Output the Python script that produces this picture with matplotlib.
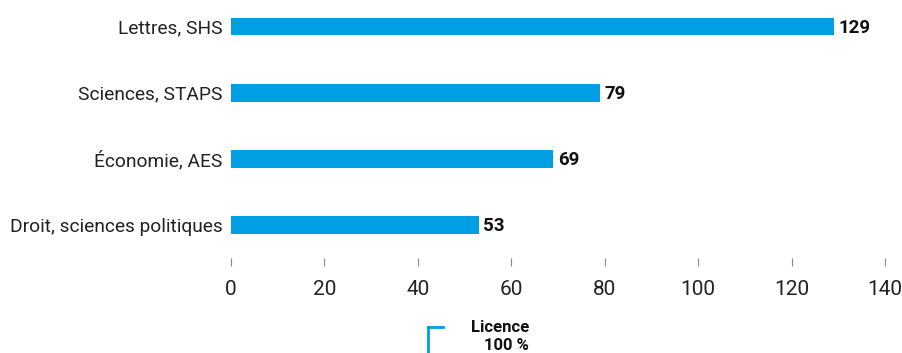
import matplotlib.pyplot as plt
from matplotlib.lines import Line2D

categories = ["Droit, sciences politiques", "Économie, AES", "Sciences, STAPS", "Lettres, SHS"]
values = [53, 69, 79, 129]
ticks = [0, 20, 40, 60, 80, 100, 120, 140]

plt.rcParams['font.family'] = ['Roboto', 'DejaVu Sans']

fig = plt.figure(figsize=(9.02, 3.53), dpi=100)
ax = fig.add_axes([231 / 902, 1 - 258 / 353, (885 - 231) / 902, 258 / 353])

color = "#009fe3"
ypos = list(range(len(categories)))
ax.barh(ypos, values, height=0.27, color=color)

for y, v in zip(ypos, values):
    ax.text(v + 1, y - 0.02, str(v), va="center", ha="left", fontsize=13.5,
            fontweight="bold", color="#111111")

ax.set_yticks(ypos)
ax.set_yticklabels(categories, fontsize=13.8, color="#222222")
ax.tick_params(axis="y", length=0, pad=6)

ax.set_xlim(0, 140)
ax.set_ylim(-0.5, 3.4)
ax.set_xticks(ticks)
ax.set_xticklabels([str(t) for t in ticks], fontsize=15, color="#222222")
ax.tick_params(axis="x", length=6, width=0.8, color="#888888", pad=10)

for s in ax.spines.values():
    s.set_visible(False)

# legend
fig.add_artist(Line2D([428 / 902, 443 / 902], [1 - 327 / 353, 1 - 327 / 353],
                      color=color, lw=2, transform=fig.transFigure))
fig.add_artist(Line2D([428 / 902, 428 / 902], [1 - 327 / 353, 0],
                      color=color, lw=2, transform=fig.transFigure))
fig.text(500 / 902, 1 - 336 / 353, "Licence\n100 %", ha="center", va="center",
         fontsize=12, fontweight="bold", color="#111111", linespacing=1.25,
         multialignment="right")

fig.savefig("out.png", dpi=100)
